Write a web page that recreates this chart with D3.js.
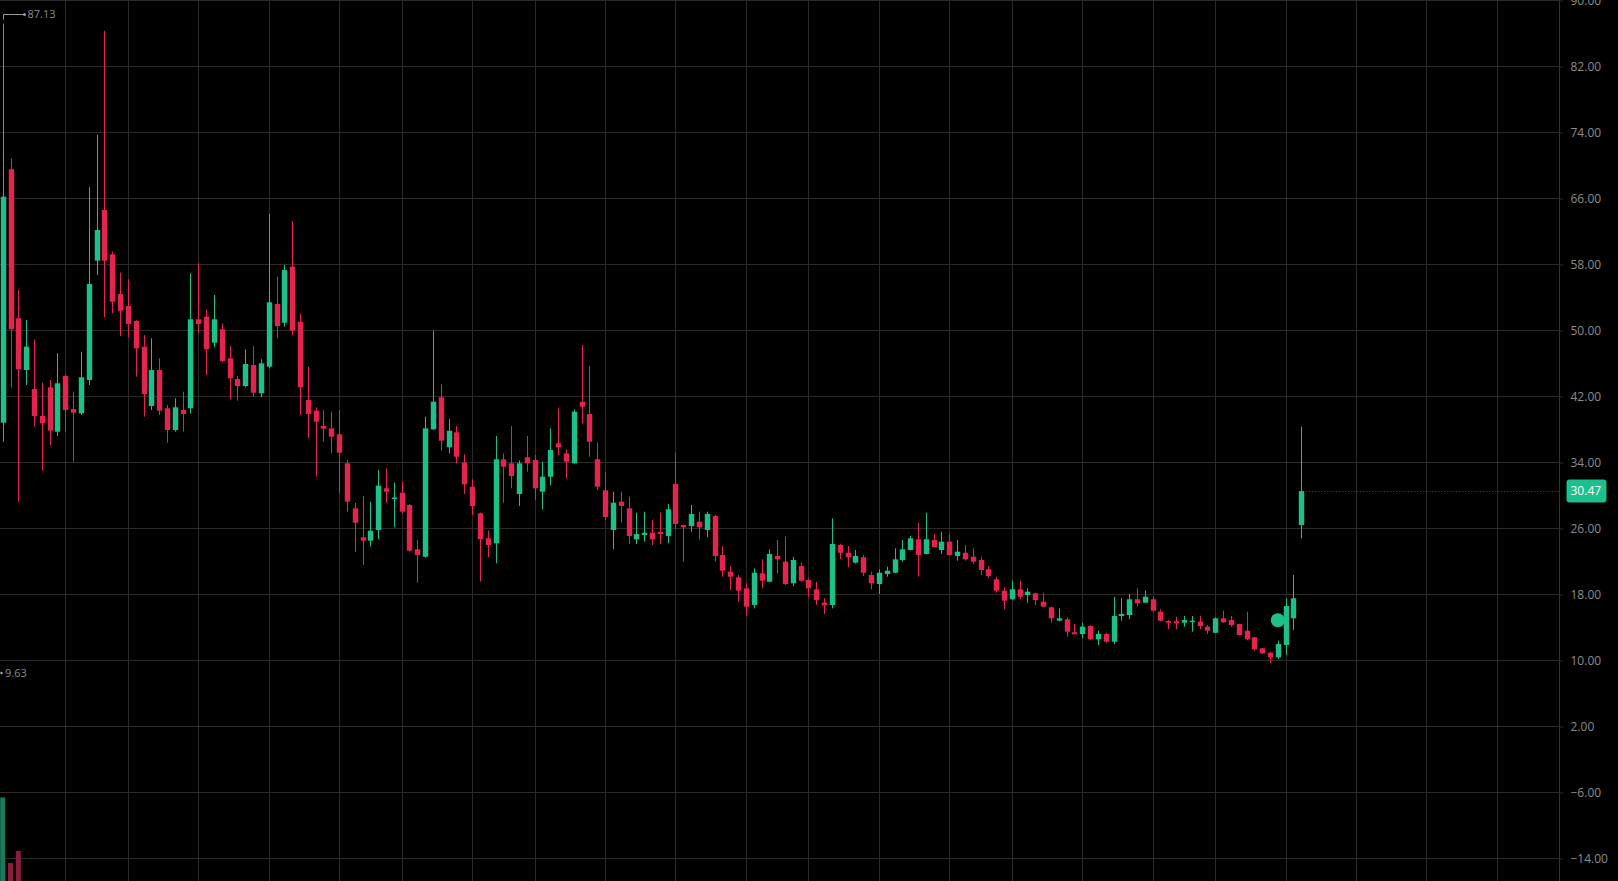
<!DOCTYPE html>
<html>
<head>
<meta charset="utf-8">
<script src="https://cdn.jsdelivr.net/npm/d3@7"></script>
<style>
  body { margin: 0; background: #000; overflow: hidden; }
  text { font-family: "Open Sans", sans-serif; }
</style>
</head>
<body>
<div id="chart"></div>
<script>
// daily candles (index 0 = first visible bar)
var opens = [
  38.76, 69.48, 51.42, 45.15, 42.85, 39.58, 43.05, 37.67, 44.42, 40.42,
  39.90, 43.94, 58.40, 64.55, 59.18, 54.36, 52.91, 51.09, 47.98, 40.79,
  45.15, 40.51, 37.88, 40.30, 40.51, 51.30, 51.61, 48.46, 50.08, 46.57,
  44.06, 43.21, 45.76, 42.33, 45.55, 53.15, 50.88, 57.67, 51.01, 41.52,
  40.22, 38.36, 38.08, 37.36, 33.84, 28.39, 24.87, 24.46, 25.76, 30.81,
  29.50, 30.28, 28.79, 23.42, 22.52, 37.96, 41.84, 35.78, 37.60, 33.92,
  31.01, 27.78, 24.75, 24.15, 34.33, 33.84, 30.12, 34.57, 34.24, 30.40,
  32.22, 36.27, 35.05, 33.84, 41.31, 39.82, 34.33, 30.57, 25.76, 29.19,
  28.39, 24.63, 25.15, 25.43, 25.52, 25.03, 31.33, 26.36, 26.24, 26.76,
  25.76, 27.45, 22.73, 20.70, 20.02, 18.69, 16.67, 20.51, 19.49, 22.61,
  21.92, 19.30, 21.39, 19.70, 18.57, 16.95, 16.67, 23.94, 23.00, 21.80,
  22.45, 20.30, 19.21, 20.42, 20.58, 22.12, 23.33, 24.63, 22.85, 24.55,
  23.33, 24.34, 22.61, 23.00, 22.52, 22.12, 21.00, 19.78, 18.40, 17.36,
  18.57, 17.88, 18.08, 17.07, 16.39, 14.77, 14.93, 13.36, 13.15, 14.12,
  12.51, 13.15, 12.22, 15.33, 15.45, 17.36, 16.95, 17.36, 15.85, 14.73,
  14.69, 14.52, 14.61, 14.65, 14.04, 13.30, 15.05, 14.85, 14.36, 13.55,
  12.75, 11.42, 10.89, 10.33, 11.82, 15.05, 26.36
];
var highs = [
  87.13, 70.81, 54.85, 51.21, 48.87, 43.61, 43.94, 47.18, 44.60, 42.52,
  47.37, 67.30, 73.64, 86.28, 59.50, 56.95, 56.15, 51.20, 49.39, 48.99,
  46.57, 40.90, 41.72, 42.52, 56.87, 58.08, 52.51, 54.24, 50.81, 48.06,
  44.42, 47.66, 48.06, 46.45, 64.06, 56.46, 57.90, 63.21, 52.02, 45.55,
  40.63, 40.30, 40.10, 40.30, 34.24, 29.03, 29.88, 29.19, 33.03, 33.24,
  31.50, 31.61, 28.90, 24.55, 39.49, 49.92, 43.42, 39.18, 38.36, 34.93,
  31.90, 27.86, 25.67, 37.15, 35.05, 38.36, 34.20, 37.15, 34.85, 34.04,
  38.08, 40.51, 35.55, 40.39, 48.18, 45.64, 36.34, 32.83, 30.40, 30.40,
  29.79, 27.86, 27.98, 26.97, 27.86, 28.91, 35.13, 26.40, 28.79, 27.98,
  27.98, 27.58, 23.82, 21.39, 20.30, 19.30, 21.11, 22.20, 23.42, 24.55,
  24.95, 22.52, 21.80, 19.90, 19.49, 17.48, 27.17, 24.06, 23.82, 23.33,
  22.73, 20.70, 20.99, 21.31, 23.54, 24.55, 25.03, 26.64, 27.86, 25.27,
  25.55, 25.27, 24.55, 23.94, 23.54, 22.52, 21.39, 20.10, 18.81, 19.61,
  19.61, 18.69, 18.16, 18.16, 16.46, 16.26, 15.17, 14.36, 14.52, 14.24,
  13.55, 13.30, 17.67, 17.48, 18.00, 18.69, 18.40, 17.67, 16.14, 14.85,
  15.25, 15.33, 15.33, 15.33, 14.24, 15.17, 15.98, 15.33, 14.40, 15.85,
  12.80, 11.45, 11.00, 12.34, 17.48, 20.30, 38.28
];
var lows = [
  36.46, 43.05, 29.19, 43.33, 38.28, 32.95, 36.06, 37.15, 37.67, 34.04,
  39.70, 43.33, 56.67, 51.54, 52.02, 49.27, 49.12, 44.34, 39.49, 40.30,
  39.70, 36.34, 37.67, 37.67, 39.90, 49.67, 44.55, 47.90, 46.10, 41.60,
  41.43, 43.05, 41.92, 41.84, 45.35, 48.99, 50.40, 49.40, 39.70, 36.91,
  32.22, 36.46, 35.05, 30.20, 27.98, 23.13, 21.52, 23.73, 24.63, 29.07,
  26.08, 27.70, 23.13, 19.37, 22.40, 37.90, 35.37, 35.05, 33.84, 30.12,
  27.58, 19.49, 22.45, 21.72, 29.07, 30.81, 28.67, 32.83, 29.39, 28.27,
  31.13, 34.85, 32.00, 33.80, 38.69, 34.64, 30.61, 26.97, 23.42, 26.64,
  24.06, 24.06, 24.34, 23.94, 24.06, 24.15, 25.84, 21.92, 25.55, 24.63,
  24.87, 21.92, 20.10, 18.48, 17.07, 15.33, 16.26, 18.69, 19.40, 20.51,
  19.10, 18.97, 19.50, 17.67, 16.67, 15.58, 16.26, 22.20, 21.23, 21.70,
  20.18, 18.57, 18.00, 20.10, 20.50, 21.90, 23.30, 20.10, 22.80, 23.65,
  22.85, 22.70, 22.04, 22.04, 21.64, 20.30, 19.90, 18.16, 16.14, 17.30,
  17.36, 16.95, 16.67, 16.40, 14.52, 14.70, 12.82, 13.10, 12.63, 12.45,
  11.82, 12.10, 11.94, 14.77, 14.93, 16.55, 16.90, 15.85, 14.70, 13.72,
  13.72, 14.04, 13.43, 13.72, 13.15, 13.25, 14.50, 14.04, 13.00, 12.42,
  11.13, 10.75, 9.63, 10.10, 10.61, 13.64, 24.75
];
var closes = [
  66.16, 50.08, 45.24, 47.98, 39.58, 38.69, 37.80, 43.54, 40.30, 39.98,
  44.27, 55.58, 62.12, 58.40, 53.43, 52.34, 50.73, 47.78, 42.24, 45.15,
  40.22, 37.88, 40.63, 39.82, 51.30, 50.73, 47.66, 51.30, 46.24, 44.15,
  43.21, 45.88, 42.40, 45.96, 53.36, 50.48, 57.27, 49.92, 43.05, 39.82,
  38.89, 38.04, 37.07, 35.13, 29.19, 26.64, 24.46, 25.67, 31.13, 30.40,
  29.70, 27.98, 23.25, 22.73, 38.08, 41.31, 36.58, 37.79, 34.64, 31.30,
  28.67, 24.63, 23.94, 34.33, 33.43, 32.30, 33.84, 33.84, 30.81, 32.22,
  35.45, 35.78, 34.04, 40.10, 40.70, 36.46, 31.01, 27.33, 29.07, 28.67,
  25.03, 25.27, 25.43, 24.63, 25.27, 28.27, 26.48, 26.08, 27.70, 26.08,
  27.70, 22.61, 20.82, 20.10, 18.40, 16.46, 20.58, 19.61, 22.85, 22.20,
  19.21, 22.12, 19.61, 18.69, 17.27, 16.63, 24.06, 23.00, 22.45, 22.61,
  20.58, 19.30, 20.58, 20.82, 22.20, 23.42, 24.75, 22.73, 24.63, 23.70,
  24.34, 22.73, 23.13, 22.20, 21.92, 20.91, 20.18, 18.40, 17.19, 18.57,
  17.67, 18.28, 17.27, 16.46, 15.05, 15.05, 13.43, 13.12, 14.04, 12.51,
  13.15, 12.22, 15.33, 15.58, 17.36, 16.87, 17.67, 15.98, 14.77, 14.52,
  14.45, 14.85, 14.77, 14.12, 13.55, 15.05, 14.57, 14.24, 13.03, 12.51,
  11.30, 10.81, 10.33, 11.94, 16.55, 17.48, 30.47
];
// volume in millions: only the first three bars reach up into the frame
var volumes = [21.5, 8.4, 10.8];

var priceTicks = [90, 82, 74, 66, 58, 50, 42, 34, 26, 18, 10, 2, -6, -14];
// vertical grid lines, as bar index (the last three are past the data)
var timeTicks = [8, 16, 25, 34, 43, 51, 60, 68, 77, 86, 95, 103, 112, 121, 129, 138, 147, 155, 164, 173, 182, 191];

var markerIndex = 163;
var markerPrice = 14.81;

// parametros de la grafica
var width = 1618;
var height = 881;
var axisX = 1559.5;
var bodyWidth = 5.4;
var verde = "#1bc08d";
var rojo = "#e5234f";
var gridColor = "#2b2b2b";
var textColor = "#8c8c8c";

var data = opens.map(function (o, i) {
  return { i: i, open: o, high: highs[i], low: lows[i], close: closes[i] };
});
var last = data[data.length - 1];

/* Scales */
var xScale = d3.scaleLinear()
  .domain([0, data.length - 1])
  .range([2.7, 1301.3]);

var yScale = d3.scaleLinear()
  .domain([90, -14])
  .range([0, 858]);

var volScale = d3.scaleLinear()
  .domain([0, 25])
  .range([905, 780]);

var svg = d3.select("#chart").append("svg")
  .attr("width", width)
  .attr("height", height)
  .style("display", "block");

svg.append("rect")
  .attr("width", width)
  .attr("height", height)
  .attr("fill", "#000");

/* Grid */
var grid = svg.append("g").attr("class", "grid");

grid.selectAll(".vline")
  .data(timeTicks).enter()
  .append("line")
  .attr("x1", d => Math.round(xScale(d)) + 0.5)
  .attr("x2", d => Math.round(xScale(d)) + 0.5)
  .attr("y1", 0)
  .attr("y2", height)
  .attr("stroke", gridColor);

grid.selectAll(".hline")
  .data(priceTicks).enter()
  .append("line")
  .attr("x1", 0)
  .attr("x2", axisX)
  .attr("y1", d => Math.round(yScale(d)) + 0.5)
  .attr("y2", d => Math.round(yScale(d)) + 0.5)
  .attr("stroke", gridColor);

/* Volume (bottom, mostly below the frame) */
svg.append("g")
  .selectAll("rect")
  .data(volumes).enter()
  .append("rect")
  .attr("x", (d, i) => xScale(i) - 2.5)
  .attr("width", 5)
  .attr("y", d => volScale(d))
  .attr("height", d => volScale(0) - volScale(d))
  .attr("fill", (d, i) => closes[i] >= opens[i] ? "#1a7a5c" : "#8a1c3e");

/* Candles */
var candles = svg.append("g")
  .attr("class", "candles")
  .selectAll("g")
  .data(data).enter()
  .append("g")
  .attr("fill", d => d.close >= d.open ? verde : rojo)
  .attr("stroke", d => d.close >= d.open ? verde : rojo);

candles.append("line")
  .attr("x1", d => Math.round(xScale(d.i)) + 0.5)
  .attr("x2", d => Math.round(xScale(d.i)) + 0.5)
  .attr("y1", d => yScale(d.high))
  .attr("y2", d => yScale(d.low))
  .attr("stroke-width", 1);

candles.append("rect")
  .attr("x", d => Math.round(xScale(d.i)) + 0.5 - bodyWidth / 2)
  .attr("width", bodyWidth)
  .attr("y", d => yScale(Math.max(d.open, d.close)))
  .attr("height", d => Math.max(1.5, yScale(Math.min(d.open, d.close)) - yScale(Math.max(d.open, d.close))))
  .attr("stroke", "none");

/* Last price line */
svg.append("line")
  .attr("x1", xScale(last.i) + 5)
  .attr("x2", axisX)
  .attr("y1", Math.round(yScale(last.close)) + 0.5)
  .attr("y2", Math.round(yScale(last.close)) + 0.5)
  .attr("stroke", verde)
  .attr("stroke-opacity", 0.55)
  .attr("stroke-dasharray", "1,2");

/* Marker */
svg.append("circle")
  .attr("cx", xScale(markerIndex))
  .attr("cy", yScale(markerPrice))
  .attr("r", 7)
  .attr("fill", verde);

/* High / low labels */
var maxHigh = d3.max(highs);
var maxIdx = highs.indexOf(maxHigh);
var minLow = d3.min(lows);
var hx = Math.round(xScale(maxIdx)) + 0.5;
var hy = Math.round(yScale(maxHigh)) - 10 + 0.5;

svg.append("path")
  .attr("d", `M${hx},${hy + 5}V${hy}H${hx + 21}`)
  .attr("fill", "none")
  .attr("stroke", "#9a9a9a");
svg.append("circle")
  .attr("cx", hx + 21)
  .attr("cy", hy)
  .attr("r", 1.5)
  .attr("fill", "#9a9a9a");
svg.append("text")
  .attr("x", hx + 24)
  .attr("y", hy)
  .attr("dy", "0.35em")
  .attr("fill", textColor)
  .style("font-size", "11px")
  .text(d3.format(".2f")(maxHigh));

var ly = yScale(minLow) + 10;
svg.append("circle")
  .attr("cx", 1.5)
  .attr("cy", ly)
  .attr("r", 1.3)
  .attr("fill", "#9a9a9a");
svg.append("text")
  .attr("x", 5)
  .attr("y", ly)
  .attr("dy", "0.35em")
  .attr("fill", textColor)
  .style("font-size", "11px")
  .text(d3.format(".2f")(minLow));

/* Price axis */
svg.append("line")
  .attr("x1", axisX)
  .attr("x2", axisX)
  .attr("y1", 0)
  .attr("y2", height)
  .attr("stroke", "#333");

var yAxis = d3.axisRight(yScale)
  .tickValues(priceTicks)
  .tickFormat(d3.format(".2f"))
  .tickSize(4)
  .tickSizeOuter(0)
  .tickPadding(7);

var axisG = svg.append("g")
  .attr("transform", `translate(${axisX}, 0.5)`)
  .call(yAxis);
axisG.select(".domain").remove();
axisG.selectAll(".tick line").attr("stroke", gridColor);
axisG.selectAll(".tick text")
  .attr("fill", textColor)
  .style("font-size", "12px")
  .style("font-family", "'Open Sans', sans-serif");

/* Last price badge */
var badgeY = yScale(last.close);
svg.append("rect")
  .attr("x", 1566.5)
  .attr("y", badgeY - 11.5)
  .attr("width", 40)
  .attr("height", 23)
  .attr("rx", 3)
  .attr("fill", verde);
svg.append("text")
  .attr("x", 1570.5)
  .attr("y", badgeY)
  .attr("dy", "0.35em")
  .attr("fill", "#fff")
  .style("font-size", "12px")
  .text(d3.format(".2f")(last.close));
</script>
</body>
</html>
